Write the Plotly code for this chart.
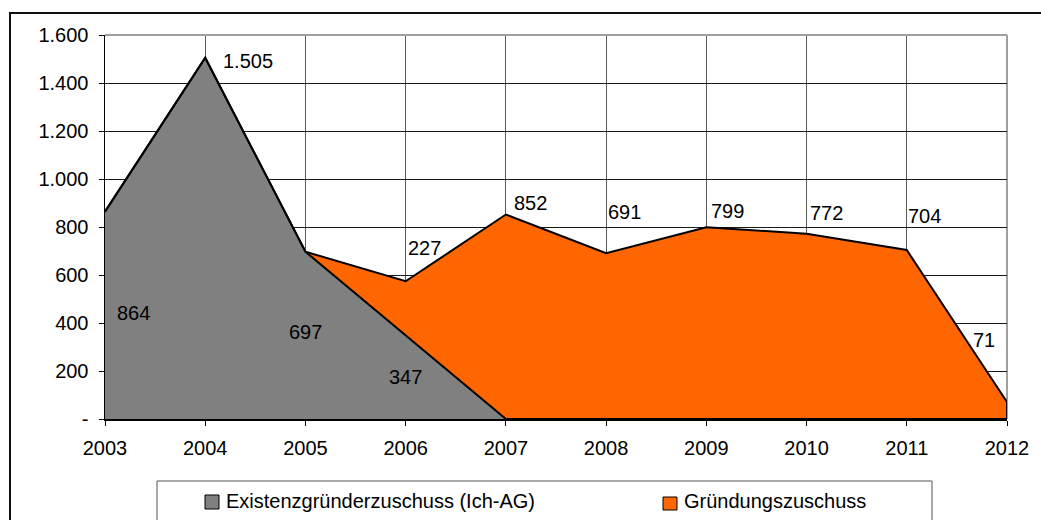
import plotly.graph_objects as go

# ---------------- data ----------------
years = [2003, 2004, 2005, 2006, 2007, 2008, 2009, 2010, 2011, 2012]
ich_ag = [864, 1505, 697, 347, 0, None, None, None, None, None]
gruendung = [None, None, 0, 227, 852, 691, 799, 772, 704, 71]
series_names = ["Existenzgründerzuschuss (Ich-AG)", "Gründungszuschuss"]
y_tick_vals = [0, 200, 400, 600, 800, 1000, 1200, 1400, 1600]
y_tick_text = ["-", "200", "400", "600", "800", "1.000", "1.200", "1.400", "1.600"]

# ---------------- styles ----------------
GRAY = "#808080"
ORANGE = "#FF6600"
FONT = "Arial, Liberation Sans, sans-serif"
FS = 20

W, H = 1041, 520
L, R, T, B = 105, 1007, 35, 419   # plot area in pixels
PW, PH = R - L, B - T


def px2x(px):
    return (px - L) / PW


def py2y(py):
    return (B - py) / PH


def fmt(v):
    return f"{v:,}".replace(",", ".")


gray_y = [v if v is not None else 0 for v in ich_ag]
orange_y = [v if v is not None else 0 for v in gruendung]
stack_top = [g + o for g, o in zip(gray_y, orange_y)]

fig = go.Figure()
fig.add_trace(go.Scatter(
    x=years, y=gray_y, name=series_names[0], stackgroup="one",
    mode="lines", line=dict(color="black", width=2), fillcolor=GRAY,
    showlegend=False, hoverinfo="skip"))
fig.add_trace(go.Scatter(
    x=years, y=orange_y, name=series_names[1], stackgroup="one",
    mode="lines", line=dict(color="black", width=2), fillcolor=ORANGE,
    showlegend=False, hoverinfo="skip"))
# closing edge of the area polygon at the last category
fig.add_trace(go.Scatter(
    x=[years[-1], years[-1]], y=[0, stack_top[-1]], mode="lines",
    line=dict(color="black", width=2), showlegend=False, hoverinfo="skip",
    cliponaxis=False))

# label placement styles (anchor, xanchor, xshift, yshift)
gray_label_style = {0: ("mid", "left", 10, 2), 1: ("top", "left", 16, -3),
                    2: ("mid", "center", 0, 3), 3: ("mid", "center", 0, 0)}
orange_label_style = {3: ("left", 0, 33), 4: ("left", 6, 12), 5: ("left", 0, 41),
                      6: ("left", 3, 16), 7: ("left", 1, 21), 8: ("left", -1, 34),
                      9: ("right", -10, 62)}

annotations = []
for i, v in enumerate(ich_ag):
    if v is None or i not in gray_label_style:
        continue
    anc, xa, xs, ys = gray_label_style[i]
    yv = v / 2 if anc == "mid" else v
    annotations.append(dict(x=years[i], y=yv, xref="x", yref="y", text=fmt(v),
                            showarrow=False, xanchor=xa, yanchor="middle",
                            xshift=xs, yshift=ys,
                            font=dict(family=FONT, size=FS, color="black")))
for i, v in enumerate(gruendung):
    if v is None or i not in orange_label_style:
        continue
    xa, xs, ys = orange_label_style[i]
    yv = stack_top[i]
    annotations.append(dict(x=years[i], y=yv, xref="x", yref="y", text=fmt(v),
                            showarrow=False, xanchor=xa, yanchor="middle",
                            xshift=xs, yshift=ys,
                            font=dict(family=FONT, size=FS, color="black")))

# legend texts
annotations.append(dict(x=px2x(224), y=py2y(501), xref="paper", yref="paper",
                        text=series_names[0], showarrow=False, xanchor="left",
                        yanchor="middle", font=dict(family=FONT, size=FS, color="black")))
annotations.append(dict(x=px2x(682), y=py2y(501), xref="paper", yref="paper",
                        text=series_names[1], showarrow=False, xanchor="left",
                        yanchor="middle", font=dict(family=FONT, size=FS, color="black")))

shapes = [
    # outer chart border
    dict(type="rect", xref="paper", yref="paper", x0=px2x(10), x1=px2x(1060),
         y0=py2y(540), y1=py2y(13), line=dict(color="#111111", width=2),
         fillcolor="rgba(0,0,0,0)", layer="below"),
    # plot area top / right border
    dict(type="line", xref="paper", yref="paper", x0=0, x1=1, y0=1, y1=1,
         line=dict(color="#a0a0a0", width=2), layer="above"),
    dict(type="line", xref="paper", yref="paper", x0=1, x1=1, y0=0, y1=1,
         line=dict(color="#a0a0a0", width=2), layer="below"),
    # legend box
    dict(type="rect", xref="paper", yref="paper", x0=px2x(157), x1=px2x(932),
         y0=py2y(535), y1=py2y(481), line=dict(color="#555555", width=1),
         fillcolor="white", layer="above"),
    # legend swatches
    dict(type="rect", xref="paper", yref="paper", x0=px2x(205), x1=px2x(219),
         y0=py2y(509), y1=py2y(495), line=dict(color="black", width=1),
         fillcolor=GRAY, layer="above"),
    dict(type="rect", xref="paper", yref="paper", x0=px2x(663), x1=px2x(677),
         y0=py2y(510), y1=py2y(497), line=dict(color="black", width=1),
         fillcolor=ORANGE, layer="above"),
]

fig.update_layout(
    width=W, height=H,
    margin=dict(l=L, r=W - R, t=T, b=H - B, pad=0),
    paper_bgcolor="white", plot_bgcolor="white",
    font=dict(family=FONT, size=FS, color="black"),
    showlegend=False,
    annotations=annotations,
    shapes=shapes,
    xaxis=dict(range=[years[0], years[-1]], tickmode="array", tickvals=years,
               ticktext=[str(y) for y in years], ticks="outside", ticklen=5,
               tickcolor="black", tickwidth=1, showgrid=True, gridcolor="#5a5a5a",
               gridwidth=1, showline=True, linecolor="black", linewidth=2,
               zeroline=False, ticklabelstandoff=5, fixedrange=True,
               tickfont=dict(family=FONT, size=FS, color="black")),
    yaxis=dict(range=[0, 1600], tickmode="array", tickvals=y_tick_vals,
               ticktext=y_tick_text, ticks="outside", ticklen=5, tickcolor="black",
               tickwidth=1, showgrid=True, gridcolor="#1a1a1a", gridwidth=1,
               showline=True, linecolor="black", linewidth=1.5, zeroline=False,
               ticklabelstandoff=6, fixedrange=True,
               tickfont=dict(family=FONT, size=FS, color="black")),
)

fig.write_html(
    "out.html",
    config={"displayModeBar": False, "staticPlot": True},
    post_script="document.body.style.margin='0';document.body.style.overflow='hidden';"
                "document.documentElement.style.overflow='hidden';",
)
